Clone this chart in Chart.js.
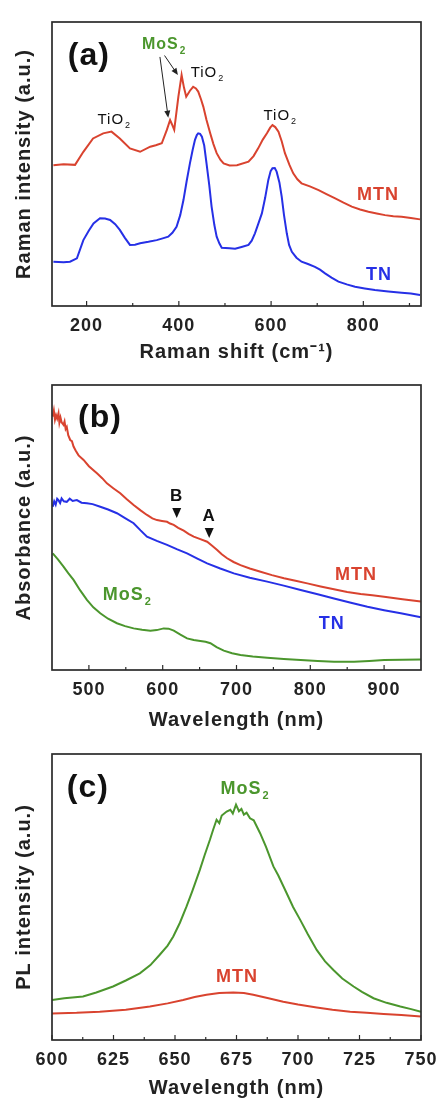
<!DOCTYPE html>
<html><head><meta charset="utf-8">
<script src="https://cdn.jsdelivr.net/npm/chart.js@4.4.1/dist/chart.umd.min.js"></script>
<style>
html,body{margin:0;padding:0;background:#fff;}
body{width:448px;height:1104px;position:relative;overflow:hidden;}
.p{position:absolute;left:0;width:448px;height:368px;}
</style></head><body>
<div class="p" style="top:0px"><canvas id="ca"></canvas></div>
<div class="p" style="top:368px"><canvas id="cb"></canvas></div>
<div class="p" style="top:736px"><canvas id="cc"></canvas></div>
<script>
// ---------- (a) Raman ----------
const ramanMtnX = [128,150,175,193,214,236,254,272,294,316,338,350,363,374,381,385,390,399,406,411,416,424,431,437,442,448,453,460,468,475,482,490,497,510,526,551,562,572,582,591,598,603,609,616,623,630,640,648,657,666,684,703,720,739,757,775,793,811,829,847,865,883,903,923];
const ramanMtnY = [49.6,49.9,49.7,54.3,59.0,60.8,61.4,59.0,55.5,54.3,56.1,56.6,57.3,62.0,65.5,64.0,62.0,73.7,81.3,77.0,73.7,75.8,77.2,76.6,75.5,72.8,70.2,65.5,60.8,57.0,53.8,51.5,50.2,49.5,49.6,50.8,52.8,55.5,58.6,60.8,62.8,63.7,63.0,61.4,58.0,53.8,49.6,46.7,44.6,43.2,42.1,40.8,39.4,37.9,36.4,35.0,34.0,33.2,32.6,32.0,31.6,31.4,31.0,30.5];
const ramanTnX = [128,150,164,179,193,205,215,229,240,251,262,272,283,294,305,316,334,352,365,377,386,395,403,410,417,424,430,435,439,442,446,450,455,460,466,471,477,482,488,493,510,522,536,551,558,565,572,580,587,594,599,603,608,612,618,623,628,634,639,645,655,666,680,695,706,717,731,746,764,782,803,825,854,883,903,923];
const ramanTnY = [15.6,15.4,15.6,16.8,23.2,26.6,29.1,30.9,30.8,30.3,28.8,26.8,24.0,21.5,21.6,22.1,22.6,23.2,23.8,24.4,25.8,27.9,32.0,37.3,44.0,50.2,55.0,58.5,60.2,60.8,60.6,59.6,56.5,50.2,42.5,35.0,28.5,24.4,22.0,20.5,20.3,20.2,20.8,21.5,23.0,25.6,28.8,32.6,38.0,44.4,47.5,48.5,48.6,47.3,43.5,38.5,32.0,25.6,21.5,19.1,17.0,15.6,14.8,13.8,12.8,11.5,10.0,8.6,7.6,6.8,6.2,5.6,5.1,4.7,4.4,3.9];
const ramanTicks = [200,400,600,800];
const ramanMinor = [300,500,700,900];

// ---------- (b) Absorbance ----------
const absMtnX = [451,452.5,454,455.5,457,458.8,460,461.5,463,465.6,467,468.5,470,472,474.7,477,479.2,482,486,492.8,500,510.9,518,524.4,533,542.5,551,560.6,570,578.7,586,592.3,599,605.9,610,614.9,621,628.5,635,642,651,660.2,667,673.8,680,687.3,696,705.4,718,732.6,748,764.3,780,795.9,814,832,850,868.3,884,900,925,949.8];
const absMtnY = [88.9,91.0,87.8,89.4,88.2,90.1,86.8,88.6,86.9,86.0,87.2,84.6,85.3,82.4,80.7,80.3,78.4,77.0,75.3,73.7,71.5,69.0,67.3,65.5,63.8,62.0,60.0,57.9,56.0,54.4,53.2,52.6,52.3,52.0,51.4,50.9,49.9,48.9,47.8,46.8,45.9,45.0,43.6,42.1,40.6,39.2,37.9,36.8,35.6,34.5,33.3,32.2,31.3,30.4,29.3,28.3,27.4,26.7,26.2,25.7,24.8,24.0];
const absTnX = [451,453,455,457,458.8,461,463,466,470,474,478,483.7,490,497.3,505,515.4,526,538,549,560.6,570,578.7,592,605.9,619,633,647,660.2,678,696.4,718,741.6,764,786.9,810,832.1,855,877.4,900,922.6,949.8];
const absTnY = [57.3,59.2,58.0,60.1,59.6,58.6,60.2,59.2,59.0,60.1,59.3,59.6,58.7,58.5,58.2,57.3,56.3,55.0,53.3,51.5,49.0,46.8,45.3,43.9,42.4,40.9,39.1,37.4,35.6,33.9,32.4,31.0,29.6,28.1,26.6,25.1,23.6,22.2,21.0,19.9,18.5];
const absMosX = [451,458,465.6,472,479.2,488,497.3,506,515.4,526,538,549,560.6,572,583.3,592,601.4,608,615,624,633,642,651,658,664.7,673,682.8,694,705.4,722,741.6,764,786.9,810,832.1,859.3,880,900,925,949.8];
const absMosY = [40.9,38.8,36.3,34.0,31.6,28.0,24.6,22.0,19.9,18.0,16.4,15.4,14.6,14.1,13.8,14.0,14.6,14.5,13.8,12.4,11.1,10.5,10.2,9.9,9.4,8.0,6.8,5.9,5.3,4.7,4.3,3.9,3.5,3.2,2.9,2.9,3.2,3.5,3.6,3.7];
const absTicks = [500,600,700,800,900];
const absMinor = [550,650,750,850];

// ---------- (c) PL ----------
const plMosX = [600,605,612.6,618,624.8,630,635.7,640,643.8,647,649.3,652,654.7,657,660.1,662,664.2,665.5,666.9,668,669,671,672.5,673.5,674.8,676,677,678,679.1,680.5,682,684.6,687,690,692,695.4,698,700.9,704,707.6,711,714.4,718,722.6,726,730.7,736,741.6,746,750];
const plMosY = [14.0,14.6,15.2,16.6,18.7,20.8,23.3,26.2,29.8,33.0,36.2,41.0,46.7,52.0,59.5,64.5,70.0,73.5,77.0,75.8,78.5,79.9,80.5,79.2,82.3,80.0,80.8,78.8,79.5,77.5,76.8,72.3,67.5,60.7,57.5,51.3,46.5,42.0,37.0,31.5,27.5,24.5,21.5,18.7,16.8,14.6,13.0,11.7,10.8,9.9];
const plMtnX = [600,610,619.4,630,639.8,647,653.3,658,662.8,668,673.7,678,681.8,688,694,700,707.6,714,721.2,728,734.8,742,750];
const plMtnY = [9.3,9.5,9.9,10.6,11.7,12.8,14.0,15.0,15.8,16.4,16.6,16.4,15.8,14.6,13.4,12.4,11.4,10.6,9.9,9.5,9.1,8.7,8.2];
const plTicks = [600,625,650,675,700,725,750];
const plMinor = [612.5,637.5,662.5,687.5,712.5,737.5];

const RED = '#d9432f', BLUE = '#2630e6', GREEN = '#4b962d', INK = '#222222';
const FAM = '"Liberation Sans", Arial, Helvetica, sans-serif';

function pts(xs, ys){ return xs.map((x,i)=>({x:x, y:ys[i]})); }

function drawLabel(ctx, x, y, main, sub, size, color, weight){
  ctx.save();
  ctx.fillStyle = color;
  ctx.textBaseline = 'middle';
  ctx.textAlign = 'left';
  const mf = weight + ' ' + size + 'px ' + FAM;
  const sf = weight + ' ' + Math.round(size*0.6) + 'px ' + FAM;
  ctx.font = mf; const w1 = ctx.measureText(main).width;
  let w2 = 0; if (sub){ ctx.font = sf; w2 = ctx.measureText(sub).width + 1; }
  const x0 = x - (w1 + w2)/2;
  ctx.font = mf; ctx.fillText(main, x0, y);
  if (sub){ ctx.font = sf; ctx.fillText(sub, x0 + w1 + 1, y + size*0.38); }
  ctx.restore();
}

function arrow(ctx, x1, y1, x2, y2){
  ctx.save();
  ctx.strokeStyle = '#222'; ctx.fillStyle = '#222'; ctx.lineWidth = 1;
  const a = Math.atan2(y2-y1, x2-x1), L = 7, W = 3;
  ctx.beginPath(); ctx.moveTo(x1,y1); ctx.lineTo(x2 - L*0.8*Math.cos(a), y2 - L*0.8*Math.sin(a)); ctx.stroke();
  ctx.beginPath(); ctx.moveTo(x2,y2);
  ctx.lineTo(x2 - L*Math.cos(a) + W*Math.sin(a), y2 - L*Math.sin(a) - W*Math.cos(a));
  ctx.lineTo(x2 - L*Math.cos(a) - W*Math.sin(a), y2 - L*Math.sin(a) + W*Math.cos(a));
  ctx.closePath(); ctx.fill();
  ctx.restore();
}

function tri(ctx, x, yTop, yTip){
  ctx.save(); ctx.fillStyle = '#111';
  const h = yTip - yTop, w = h*0.45;
  ctx.beginPath(); ctx.moveTo(x - w, yTop); ctx.lineTo(x + w, yTop); ctx.lineTo(x, yTip); ctx.closePath(); ctx.fill();
  ctx.restore();
}

const spacingPlugin = {
  id: 'spacing',
  beforeUpdate(chart){ chart.ctx.letterSpacing = '1px'; },
  beforeLayout(chart){ chart.ctx.letterSpacing = '1px'; },
  beforeDraw(chart){ chart.ctx.letterSpacing = '1px'; }
};

function makePanel(id, datasets, xMin, xMax, ticks, minor, xTitle, yTitle, notes, padTop, axisH){
  const framePlugin = {
    id: 'frame'+id,
    afterDraw(chart){
      const {ctx, chartArea: a, scales} = chart;
      const xs = scales.x, ys = scales.y;
      ctx.save();
      ctx.strokeStyle = '#2b2b2b'; ctx.lineWidth = 1.7;
      ctx.strokeRect(a.left, a.top, a.right - a.left, a.bottom - a.top);
      ctx.lineWidth = 1.2;
      ticks.forEach(v=>{ const px = xs.getPixelForValue(v); ctx.beginPath(); ctx.moveTo(px, a.bottom); ctx.lineTo(px, a.bottom-5); ctx.stroke(); });
      minor.forEach(v=>{ const px = xs.getPixelForValue(v); ctx.beginPath(); ctx.moveTo(px, a.bottom); ctx.lineTo(px, a.bottom-3); ctx.stroke(); });
      ctx.restore();
      notes.forEach(n=>{
        if (n.type === 'text') drawLabel(ctx, xs.getPixelForValue(n.x), ys.getPixelForValue(n.y), n.text, n.sub, n.size, n.color, n.weight);
        else if (n.type === 'arrow') arrow(ctx, xs.getPixelForValue(n.x1), ys.getPixelForValue(n.y1), xs.getPixelForValue(n.x2), ys.getPixelForValue(n.y2));
        else if (n.type === 'tri') tri(ctx, xs.getPixelForValue(n.x), ys.getPixelForValue(n.y1), ys.getPixelForValue(n.y2));
      });
    }
  };
  return new Chart(document.getElementById(id), {
    type: 'line',
    data: { datasets: datasets.map(d=>({ data: d.data, borderColor: d.color, borderWidth: 2, pointRadius: 0, tension: 0, fill: false })) },
    options: {
      responsive: true, maintainAspectRatio: false, animation: false,
      layout: { padding: { top: padTop, right: 27, left: 0, bottom: 0 } },
      plugins: { legend: { display: false }, tooltip: { enabled: false } },
      scales: {
        x: {
          type: 'linear', min: xMin, max: xMax,
          afterBuildTicks(s){ s.ticks = ticks.map(v=>({value:v})); },
          afterFit(s){ s.height = axisH; },
          grid: { display: false }, border: { display: false },
          ticks: { color: INK, font: { family: FAM, size: 18, weight: 'bold' }, padding: 1, maxRotation: 0, autoSkip: false },
          title: { display: true, text: xTitle, color: INK, font: { family: FAM, size: 20, weight: 'bold' }, padding: { top: 0, bottom: 4 } }
        },
        y: {
          min: 0, max: 100,
          afterFit(s){ s.width = 52; },
          grid: { display: false }, border: { display: false },
          ticks: { display: false },
          title: { display: true, text: yTitle, color: INK, font: { family: FAM, size: 20, weight: 'bold' }, padding: { top: 12, bottom: 0 } }
        }
      }
    },
    plugins: [spacingPlugin, framePlugin]
  });
}

makePanel('ca',
  [{data: pts(ramanMtnX, ramanMtnY), color: RED}, {data: pts(ramanTnX, ramanTnY), color: BLUE}],
  125, 925, ramanTicks, ramanMinor, 'Raman shift (cm\u207B\u00B9)', 'Raman intensity (a.u.)',
  [
    {type:'text', x:205, y:88, text:'(a)', size:32, color:'#111', weight:'bold'},
    {type:'text', x:368, y:92, text:'MoS', sub:'2', size:16, color:GREEN, weight:'bold'},
    {type:'text', x:260, y:65.5, text:'TiO', sub:'2', size:15, color:'#111', weight:'normal'},
    {type:'text', x:462, y:82, text:'TiO', sub:'2', size:15, color:'#111', weight:'normal'},
    {type:'text', x:620, y:67, text:'TiO', sub:'2', size:15, color:'#111', weight:'normal'},
    {type:'text', x:832, y:39, text:'MTN', size:18, color:RED, weight:'bold'},
    {type:'text', x:834, y:11, text:'TN', size:18, color:BLUE, weight:'bold'},
    {type:'arrow', x1:359, y1:87.7, x2:377, y2:66.3},
    {type:'arrow', x1:369, y1:88.2, x2:398, y2:81.3}
  ], 22, 62);

makePanel('cb',
  [{data: pts(absMtnX, absMtnY), color: RED}, {data: pts(absTnX, absTnY), color: BLUE}, {data: pts(absMosX, absMosY), color: GREEN}],
  450, 950, absTicks, absMinor, 'Wavelength (nm)', 'Absorbance (a.u.)',
  [
    {type:'text', x:515, y:88.4, text:'(b)', size:32, color:'#111', weight:'bold'},
    {type:'text', x:619, y:60.8, text:'B', size:17, color:'#111', weight:'bold'},
    {type:'tri', x:619, y1:56.8, y2:53.3},
    {type:'text', x:663, y:54.0, text:'A', size:17, color:'#111', weight:'bold'},
    {type:'tri', x:663, y1:49.8, y2:46.3},
    {type:'text', x:862, y:33.3, text:'MTN', size:18, color:RED, weight:'bold'},
    {type:'text', x:829, y:16.1, text:'TN', size:18, color:BLUE, weight:'bold'},
    {type:'text', x:552, y:26.3, text:'MoS', sub:'2', size:18, color:GREEN, weight:'bold'}
  ], 17, 66);

makePanel('cc',
  [{data: pts(plMosX, plMosY), color: GREEN}, {data: pts(plMtnX, plMtnY), color: RED}],
  600, 750, plTicks, plMinor, 'Wavelength (nm)', 'PL intensity (a.u.)',
  [
    {type:'text', x:614.6, y:88.1, text:'(c)', size:32, color:'#111', weight:'bold'},
    {type:'text', x:678.5, y:87.8, text:'MoS', sub:'2', size:18, color:GREEN, weight:'bold'},
    {type:'text', x:675.2, y:22, text:'MTN', size:18, color:RED, weight:'bold'}
  ], 18, 64);
</script>
</body></html>
